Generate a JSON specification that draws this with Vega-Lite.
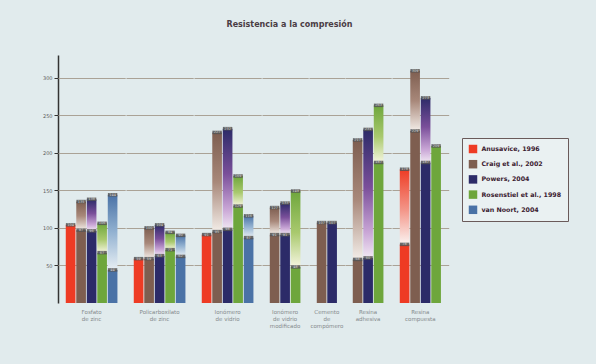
{
  "$schema": "https://vega.github.io/schema/vega-lite/v6.json",
  "background": "#e1ebed",
  "padding": {"left": 42, "top": 21, "right": 30, "bottom": 40},
  "title": {
    "text": "Resistencia a la compresión",
    "fontSize": 8,
    "fontWeight": "bold",
    "font": "DejaVu Sans",
    "color": "#4a3c44",
    "anchor": "middle",
    "dx": -16,
    "offset": 26
  },
  "data": {
    "values": [
      {"material": "Fosfato\nde zinc", "autor": "Anusavice, 1996", "min": 104, "max": null},
      {"material": "Fosfato\nde zinc", "autor": "Craig et al., 2002", "min": 97, "max": 135},
      {"material": "Fosfato\nde zinc", "autor": "Powers, 2004", "min": 96, "max": 138},
      {"material": "Fosfato\nde zinc", "autor": "Rosenstiel et al., 1998", "min": 67, "max": 106},
      {"material": "Fosfato\nde zinc", "autor": "van Noort, 2004", "min": 44, "max": 144},
      {"material": "Policarboxilato\nde zinc", "autor": "Anusavice, 1996", "min": 59, "max": null},
      {"material": "Policarboxilato\nde zinc", "autor": "Craig et al., 2002", "min": 59, "max": 100},
      {"material": "Policarboxilato\nde zinc", "autor": "Powers, 2004", "min": 63, "max": 104},
      {"material": "Policarboxilato\nde zinc", "autor": "Rosenstiel et al., 1998", "min": 71, "max": 94},
      {"material": "Policarboxilato\nde zinc", "autor": "van Noort, 2004", "min": 62, "max": 90},
      {"material": "Ionómero\nde vidrio", "autor": "Anusavice, 1996", "min": 91, "max": null},
      {"material": "Ionómero\nde vidrio", "autor": "Craig et al., 2002", "min": 95, "max": 227},
      {"material": "Ionómero\nde vidrio", "autor": "Powers, 2004", "min": 98, "max": 232},
      {"material": "Ionómero\nde vidrio", "autor": "Rosenstiel et al., 1998", "min": 129, "max": 169},
      {"material": "Ionómero\nde vidrio", "autor": "van Noort, 2004", "min": 87, "max": 116},
      {"material": "Ionómero\nde vidrio\nmodificado", "autor": "Craig et al., 2002", "min": 91, "max": 127},
      {"material": "Ionómero\nde vidrio\nmodificado", "autor": "Powers, 2004", "min": 91, "max": 133},
      {"material": "Ionómero\nde vidrio\nmodificado", "autor": "Rosenstiel et al., 1998", "min": 48, "max": 149},
      {"material": "Cemento\nde\ncompómero", "autor": "Craig et al., 2002", "min": 107, "max": null},
      {"material": "Cemento\nde\ncompómero", "autor": "Powers, 2004", "min": 107, "max": null},
      {"material": "Resina\nadhesiva", "autor": "Craig et al., 2002", "min": 58, "max": 217},
      {"material": "Resina\nadhesiva", "autor": "Powers, 2004", "min": 60, "max": 231},
      {"material": "Resina\nadhesiva", "autor": "Rosenstiel et al., 1998", "min": 187, "max": 263},
      {"material": "Resina\ncompuesta", "autor": "Anusavice, 1996", "min": 78, "max": 178},
      {"material": "Resina\ncompuesta", "autor": "Craig et al., 2002", "min": 229, "max": 309},
      {"material": "Resina\ncompuesta", "autor": "Powers, 2004", "min": 187, "max": 273},
      {"material": "Resina\ncompuesta", "autor": "Rosenstiel et al., 1998", "min": 209, "max": null}
    ]
  },
  "facet": {
    "column": {
      "field": "material",
      "type": "nominal",
      "title": null,
      "sort": [
        "Fosfato\nde zinc",
        "Policarboxilato\nde zinc",
        "Ionómero\nde vidrio",
        "Ionómero\nde vidrio\nmodificado",
        "Cemento\nde\ncompómero",
        "Resina\nadhesiva",
        "Resina\ncompuesta"
      ],
      "header": {
        "labelOrient": "bottom",
        "labelExpr": "split(datum.value, '\\n')",
        "labelFont": "DejaVu Sans",
        "labelFontSize": 5.5,
        "labelColor": "#858a8c",
        "labelPadding": 6,
        "labelLineHeight": 7,
        "labelBaseline": "top"
      }
    }
  },
  "spacing": 0,
  "resolve": {"scale": {"x": "independent"}},
  "spec": {
    "width": {"step": 10.5},
    "height": 248,
    "encoding": {
      "x": {
        "field": "autor",
        "type": "nominal",
        "axis": null,
        "sort": ["Anusavice, 1996", "Craig et al., 2002", "Powers, 2004", "Rosenstiel et al., 1998", "van Noort, 2004"],
        "scale": {"paddingInner": 0.08, "paddingOuter": 0.74}
      }
    },
    "layer": [
      {
        "mark": {"type": "bar"},
        "encoding": {
          "y": {
            "field": "min",
            "type": "quantitative",
            "scale": {"domain": [0, 330], "nice": false},
            "axis": {
              "title": null,
              "values": [50, 100, 150, 200, 250, 300],
              "labelFont": "DejaVu Sans",
              "labelFontSize": 5,
              "labelColor": "#5a5a5a",
              "labelPadding": 2,
              "tickColor": "#333333",
              "tickSize": 4,
              "domainColor": "#333333",
              "domainWidth": 1.5,
              "gridColor": "#aaa296",
              "gridWidth": 1
            }
          },
          "color": {
            "field": "autor",
            "type": "nominal",
            "scale": {
              "domain": ["Anusavice, 1996", "Craig et al., 2002", "Powers, 2004", "Rosenstiel et al., 1998", "van Noort, 2004"],
              "range": ["#ee3b24", "#7e5e50", "#2c2b68", "#6ea63c", "#4a72a6"]
            },
            "legend": {
              "title": null,
              "orient": "none",
              "legendX": 404,
              "legendY": 83,
              "symbolType": "square",
              "symbolSize": 72,
              "symbolStrokeWidth": 0,
              "labelFont": "DejaVu Sans",
              "labelFontSize": 6.3,
              "labelFontWeight": "bold",
              "labelColor": "#3a2030",
              "labelOffset": 4,
              "rowPadding": 6.2,
              "padding": 6.5,
              "strokeColor": "#6a5a5a",
              "fillColor": "#eaf1f2"
            }
          }
        }
      },
      {
        "transform": [{"filter": "isValid(datum.max)"}],
        "mark": {"type": "bar"},
        "encoding": {
          "y": {"field": "min", "type": "quantitative"},
          "y2": {"field": "max"},
          "fill": {
            "condition": [
              {"test": "datum.autor === 'Anusavice, 1996'", "value": {"gradient": "linear", "x1": 0, "y1": 0, "x2": 0, "y2": 1, "stops": [{"offset": 0, "color": "#ee3b24"}, {"offset": 0.55, "color": "#f3978a"}, {"offset": 1, "color": "#fbf4f2"}]}},
              {"test": "datum.autor === 'Craig et al., 2002'", "value": {"gradient": "linear", "x1": 0, "y1": 0, "x2": 0, "y2": 1, "stops": [{"offset": 0, "color": "#7e5e50"}, {"offset": 0.5, "color": "#a8887a"}, {"offset": 1, "color": "#f3ede8"}]}},
              {"test": "datum.autor === 'Powers, 2004'", "value": {"gradient": "linear", "x1": 0, "y1": 0, "x2": 0, "y2": 1, "stops": [{"offset": 0, "color": "#2c2b68"}, {"offset": 0.45, "color": "#7a4f9a"}, {"offset": 0.8, "color": "#c9a6d6"}, {"offset": 1, "color": "#f1e8f3"}]}},
              {"test": "datum.autor === 'Rosenstiel et al., 1998'", "value": {"gradient": "linear", "x1": 0, "y1": 0, "x2": 0, "y2": 1, "stops": [{"offset": 0, "color": "#6ea63c"}, {"offset": 0.55, "color": "#a9c96e"}, {"offset": 1, "color": "#f5f5df"}]}},
              {"test": "datum.autor === 'van Noort, 2004'", "value": {"gradient": "linear", "x1": 0, "y1": 0, "x2": 0, "y2": 1, "stops": [{"offset": 0, "color": "#4a72a6"}, {"offset": 0.5, "color": "#93b2d1"}, {"offset": 1, "color": "#e8eff4"}]}}
            ],
            "value": "#999999"
          }
        }
      },
      {
        "mark": {"type": "tick", "thickness": 3.5, "size": 9.4, "color": "#555555", "opacity": 0.85},
        "encoding": {"y": {"field": "min", "type": "quantitative"}}
      },
      {
        "transform": [{"filter": "isValid(datum.max)"}],
        "mark": {"type": "tick", "thickness": 3.5, "size": 9.4, "color": "#555555", "opacity": 0.85},
        "encoding": {"y": {"field": "max", "type": "quantitative"}}
      },
      {
        "mark": {"type": "text", "fontSize": 3.5, "font": "DejaVu Sans", "color": "#d8d8d8", "baseline": "middle"},
        "encoding": {"y": {"field": "min", "type": "quantitative"}, "text": {"field": "min", "type": "quantitative"}}
      },
      {
        "transform": [{"filter": "isValid(datum.max)"}],
        "mark": {"type": "text", "fontSize": 3.5, "font": "DejaVu Sans", "color": "#d8d8d8", "baseline": "middle"},
        "encoding": {"y": {"field": "max", "type": "quantitative"}, "text": {"field": "max", "type": "quantitative"}}
      },
      {
        "mark": {"type": "rule", "color": "#2a2a2a", "strokeWidth": 2},
        "encoding": {"y": {"datum": 0}}
      }
    ]
  },
  "config": {
    "view": {"stroke": null},
    "font": "DejaVu Sans"
  }
}
